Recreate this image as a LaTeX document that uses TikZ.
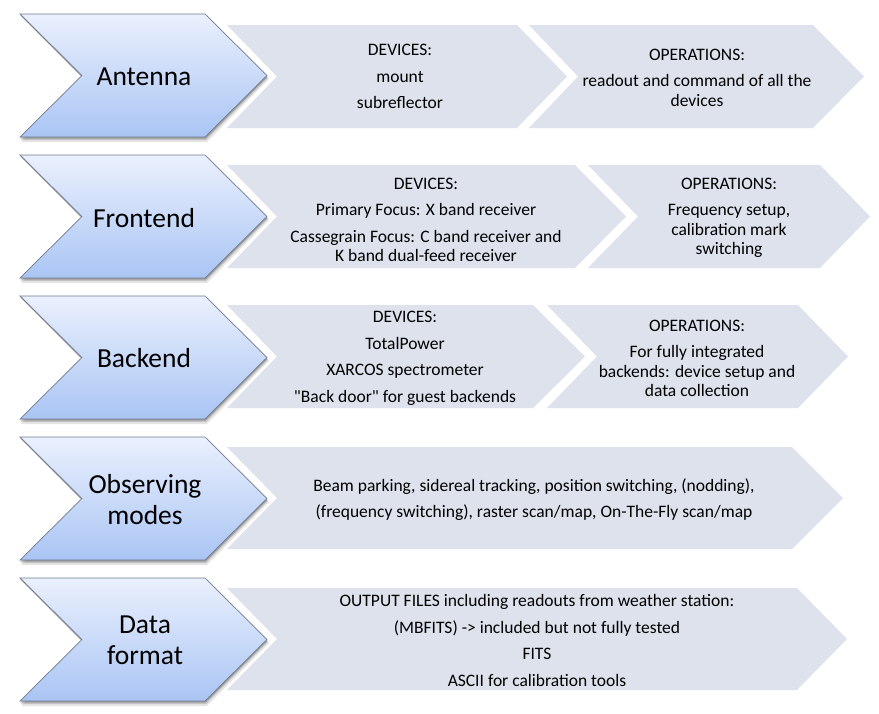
\documentclass[tikz,border=0pt]{standalone}
\usepackage{fontspec}
\setmainfont{Carlito}[Ligatures=TeXOff]
\definecolor{greyfill}{RGB}{222,226,237}
\definecolor{bluetop}{RGB}{234,240,253}
\definecolor{bluebot}{RGB}{170,197,244}
\definecolor{blueline}{RGB}{112,122,142}
\newcommand{\chevshape}[6]{(#1,#5) -- (#3,#5) -- ({#3+#4},{(#5+#6)/2}) -- (#3,#6) -- (#1,#6) -- ({#1+#2},{(#5+#6)/2}) -- cycle}
\newcommand{\bluechevron}[1]{%
  \fill[black,opacity=0.10] \chevshape{21}{62}{207}{62}{#1+2}{#1+128};
  \fill[black,opacity=0.15] \chevshape{20.5}{62}{206}{62}{#1+1.5}{#1+126};
  \fill[black,opacity=0.20] \chevshape{20}{62}{205.5}{62}{#1+1}{#1+124.5};
  \shade[bluechev] \chevshape{20}{62}{205}{62}{#1}{#1+123};
  \draw[blueline,line width=0.7pt,line join=miter] \chevshape{20}{62}{205}{62}{#1}{#1+123};
}
\tikzset{
  bluechev/.style={top color=bluetop, bottom color=bluebot},
  greychev/.style={fill=greyfill},
  lbl/.style={font=\fontsize{27.5}{31}\selectfont, align=center, text=black, inner sep=0pt},
  txt/.style={font=\fontsize{17.5}{19.5}\selectfont, align=center, text=black, inner sep=0pt},
}
\begin{document}
\begin{tikzpicture}[x=1pt,y=-1pt]
\useasboundingbox[fill=white] (0,0) rectangle (879,713);
% grey chevrons
\fill[greychev] \chevshape{227}{50}{517}{50}{25}{128};
\fill[greychev] \chevshape{529}{49}{813}{51}{25}{128};
\fill[greychev] \chevshape{227}{50}{575}{51}{165}{268};
\fill[greychev] \chevshape{588}{50}{820}{50}{165}{268};
\fill[greychev] \chevshape{227}{50}{533}{52}{305}{408};
\fill[greychev] \chevshape{547}{50}{798}{50}{305}{408};
\fill[greychev] \chevshape{227}{50}{792}{51}{447}{549};
\fill[greychev] \chevshape{227}{50}{797}{50}{588}{690};
% blue chevrons
\bluechevron{14}
\bluechevron{155}
\bluechevron{296}
\bluechevron{437}
\bluechevron{578}
% labels
\node[lbl] (lant) at (144,77) {Antenna};
\node[lbl] (lfront) at (144,218) {Frontend};
\node[lbl] (lback) at (144,358) {Backend};
\node[lbl] (lobs) at (145,500) {Observing\\modes};
\node[lbl] (ldata) at (145,640) {Data\\format};
% texts
\node[txt] (dev1) at (400,76.5) {DEVICES:\\[7pt]mount\\[7pt]subreflector};
\node[txt] (ops1) at (697,77.5) {OPERATIONS:\\[7pt]readout and command of all the\\devices};
\node[txt] (dev2) at (426,220) {DEVICES:\\[7pt]Primary Focus: X band receiver\\[7pt]Cassegrain Focus: C band receiver and\\K band dual-feed receiver};
\node[txt] (ops2) at (729,218) {OPERATIONS:\\[7pt]Frequency setup,\\calibration mark\\switching};
\node[txt] (dev3) at (405,358.5) {DEVICES:\\[7pt]TotalPower\\[7pt]XARCOS spectrometer\\[7pt]"Back door" for guest backends};
\node[txt] (ops3) at (697,358.5) {OPERATIONS:\\[7pt]For fully integrated\\backends: device setup and\\data collection};
\node[txt] (obs) at (534,499.5) {Beam parking, sidereal tracking, position switching, (nodding),\\[6pt](frequency switching), raster scan/map, On-The-Fly scan/map};
\node[txt] (data) at (537,640.5) {OUTPUT FILES including readouts from weather station:\\[7pt](MBFITS) -> included but not fully tested\\[7pt]FITS\\[7pt]ASCII for calibration tools};
\end{tikzpicture}
\end{document}
